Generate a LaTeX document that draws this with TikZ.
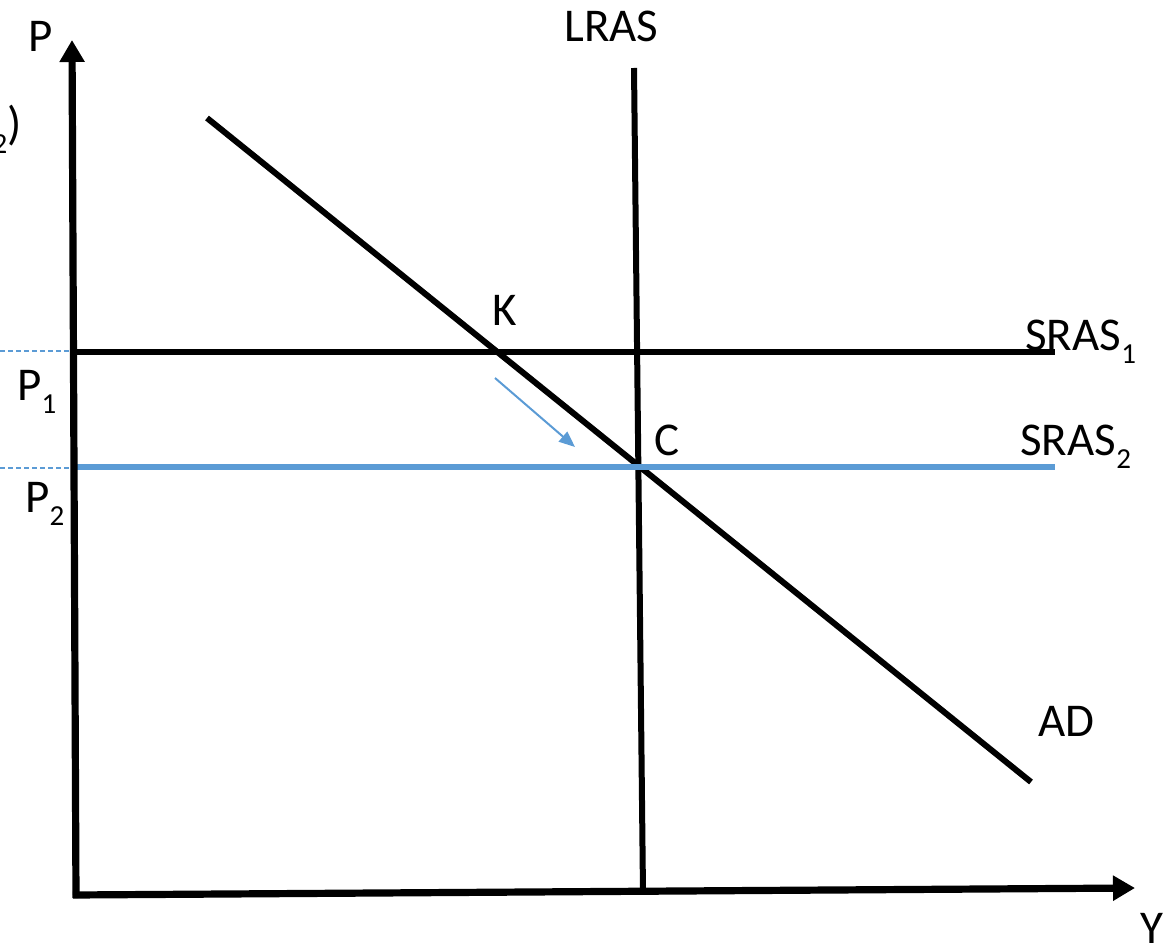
\documentclass[tikz,border=0pt]{standalone}
\usepackage{fontspec}
\setmainfont{Carlito}
\usetikzlibrary{arrows.meta,calc}
\definecolor{officeblue}{HTML}{5B9BD5}
\newcommand\lowsub[1]{\raisebox{-0.28em}{\fontsize{14.5}{16}\selectfont #1}}
\begin{document}
\begin{tikzpicture}[x=0.5pt,y=-0.5pt,
  lbl/.style={anchor=base west,inner sep=0pt,font=\fontsize{23.5}{28}\selectfont},
  axisline/.style={line width=3.6pt,-{Triangle[length=11pt,width=12pt]}},
  curve/.style={line width=3pt},
  guide/.style={officeblue,line width=0.6pt,dash pattern=on 2.5pt off 1.5pt},
  shiftarrow/.style={officeblue,line width=1pt,-{Triangle[length=8pt,width=6.5pt]}}]
\useasboundingbox (0,0) rectangle (1166,952);
% coordinates
\coordinate (origin) at (76,895);
\coordinate (ytop) at (72,40);
\coordinate (xend) at (1135,888);
\coordinate (lrasTop) at (634,68);
\coordinate (lrasBot) at (643,893);
\coordinate (adTop) at (207,118);
\coordinate (adBot) at (1031,782);
\coordinate (s1L) at (76,352);
\coordinate (s1R) at (1055,352);
\coordinate (s2L) at (76,467);
\coordinate (s2R) at (1055,467);
\coordinate (d1L) at (0,351);
\coordinate (d1R) at (72,351);
\coordinate (d2L) at (0,468);
\coordinate (d2R) at (72,468);
\coordinate (arrS) at (495,378);
\coordinate (arrE) at (575,447);
% guides
\draw[guide] (d1L) -- (d1R);
\draw[guide] (d2L) -- (d2R);
% curves
\draw[curve] (s1L) -- (s1R);
\draw[curve] (lrasTop) -- (lrasBot);
\draw[curve] (adTop) -- (adBot);
\draw[curve,officeblue] (s2L) -- (s2R);
% axes
\draw[axisline] ($(origin)+(0,3)$) -- (ytop);
\draw[axisline] ($(origin)+(-3,0)$) -- (xend);
% shift arrow
\draw[shiftarrow] (arrS) -- (arrE);
% labels
\node[lbl] (lP) at (28,52) {P};
\node[lbl,anchor=base east] (lcut) at (22,140) {\lowsub{2})};
\node[lbl] (lLRAS) at (564,42) {LRAS};
\node[lbl] (lK) at (492,325) {K};
\node[lbl] (lC) at (654,455) {C};
\node[lbl] (lS1) at (1025,350) {SRAS\lowsub{1}};
\node[lbl] (lS2) at (1020,455) {SRAS\lowsub{2}};
\node[lbl] (lP1) at (17,400) {P\lowsub{1}};
\node[lbl] (lP2) at (25,512) {P\lowsub{2}};
\node[lbl] (lAD) at (1038,736) {AD};
\node[lbl] (lY) at (1140,943) {Y};
\end{tikzpicture}
\end{document}
